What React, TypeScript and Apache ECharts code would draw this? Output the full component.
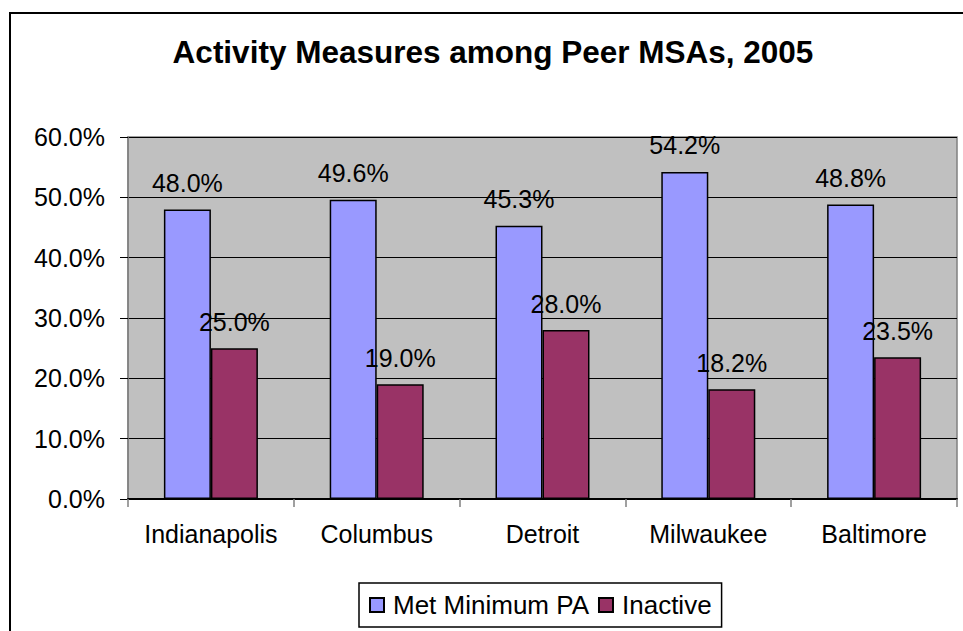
import React, { useEffect, useRef } from "react";
import * as echarts from "echarts";

const categories = ["Indianapolis", "Columbus", "Detroit", "Milwaukee", "Baltimore"];
const metMinimumPA = [48.0, 49.6, 45.3, 54.2, 48.8];
const inactive = [25.0, 19.0, 28.0, 18.2, 23.5];
const seriesNames = ["Met Minimum PA", "Inactive"];
const titleText = "Activity Measures among Peer MSAs, 2005";

const FONT = "Arial, 'Liberation Sans', sans-serif";

export default function App() {
  const ref = useRef<HTMLDivElement>(null);
  useEffect(() => {
    if (!ref.current) return;
    const chart = echarts.init(ref.current, null, { renderer: "svg" });
    const label = {
      show: true,
      position: "top",
      distance: 14,
      color: "#000",
      fontSize: 25,
      fontFamily: FONT,
      formatter: (p: any) => Number(p.value).toFixed(1) + "%",
    };
    chart.setOption({
      animation: false,
      backgroundColor: "#fff",
      title: {
        text: titleText,
        left: 493,
        textAlign: "center",
        top: 36,
        padding: 0,
        textStyle: { fontSize: 31.5, fontWeight: "bold", color: "#000", fontFamily: FONT },
      },
      graphic: [
        {
          type: "rect",
          shape: { x: 10, y: 13, width: 1000, height: 700 },
          style: { fill: "none", stroke: "#000", lineWidth: 2 },
          silent: true,
          z: 100,
        },
      ],
      legend: {
        left: 359,
        top: 583,
        padding: [9, 10, 9, 10],
        borderColor: "#000",
        borderWidth: 1.5,
        itemWidth: 14,
        itemHeight: 14,
        itemGap: 9,
        icon: "rect",
        textStyle: { fontSize: 26, color: "#000", fontFamily: FONT, padding: [0, 0, 0, 4] },
        data: seriesNames,
      },
      grid: {
        left: 128,
        top: 137,
        right: 6,
        bottom: 132,
        show: true,
        backgroundColor: "#C0C0C0",
        borderColor: "#808080",
        borderWidth: 1.5,
      },
      xAxis: {
        type: "category",
        data: categories,
        axisLine: { show: true, lineStyle: { color: "#000", width: 2 } },
        axisTick: { show: true, length: 8, alignWithLabel: false, lineStyle: { color: "#808080", width: 1.5 } },
        axisLabel: { interval: 0, hideOverlap: false, margin: 22, fontSize: 25, color: "#000", fontFamily: FONT },
      },
      yAxis: {
        type: "value",
        min: 0,
        max: 60,
        interval: 10,
        axisLine: { show: true, lineStyle: { color: "#808080", width: 1.5 } },
        axisTick: { show: true, length: 8, lineStyle: { color: "#000", width: 1 } },
        axisLabel: {
          margin: 23,
          fontSize: 25,
          color: "#000",
          fontFamily: FONT,
          formatter: (v: number) => v.toFixed(1) + "%",
        },
        splitLine: { show: true, lineStyle: { color: "#000", width: 1 } },
      },
      series: [
        {
          name: seriesNames[0],
          type: "bar",
          data: metMinimumPA,
          barWidth: 47,
          barGap: "0%",
          itemStyle: { color: "#9999FF", borderColor: "#000", borderWidth: 1.5 },
          label,
        },
        {
          name: seriesNames[1],
          type: "bar",
          data: inactive,
          barWidth: 47,
          barGap: "0%",
          itemStyle: { color: "#993366", borderColor: "#000", borderWidth: 1.5 },
          label,
        },
      ],
    });
    return () => chart.dispose();
  }, []);
  return (
    <div
      ref={ref}
      style={{ position: "fixed", left: 0, top: 0, width: 963, height: 631 }}
    />
  );
}
